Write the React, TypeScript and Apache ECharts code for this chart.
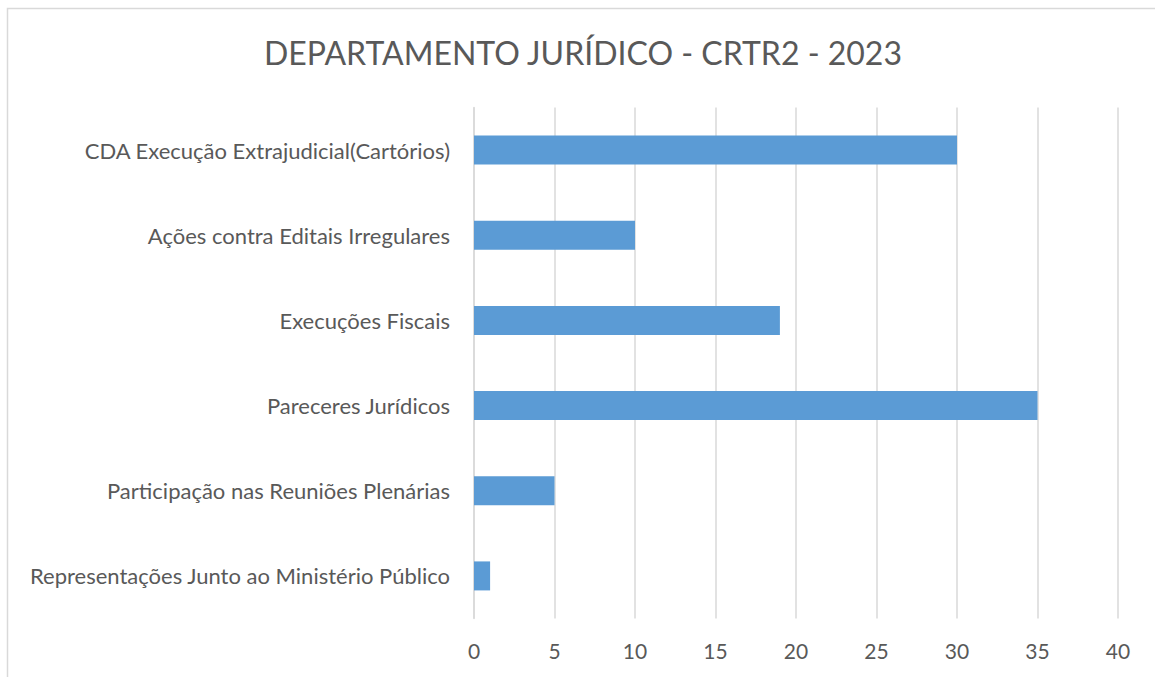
import React, { useEffect, useRef } from "react";
import * as echarts from "echarts";

const categories = [
  "CDA Execução Extrajudicial(Cartórios)",
  "Ações contra Editais Irregulares",
  "Execuções Fiscais",
  "Pareceres Jurídicos",
  "Participação nas Reuniões Plenárias",
  "Representações Junto ao Ministério Público",
];
const values = [30, 10, 19, 35, 5, 1];
const titleText = "DEPARTAMENTO JURÍDICO - CRTR2 - 2023";

export default function App() {
  const ref = useRef<HTMLDivElement>(null);
  useEffect(() => {
    document.body.style.margin = "0";
    const chart = echarts.init(ref.current!, null, { renderer: "svg" });
    chart.setOption({
      animation: false,
      backgroundColor: "#ffffff",
      title: {
        text: titleText,
        left: 578,
        textAlign: "center",
        top: 31,
        textStyle: { fontFamily: "Lato", fontSize: 32, fontWeight: "normal", color: "#595959" },
      },
      graphic: [
        {
          type: "rect",
          shape: { x: 7.5, y: 8.5, width: 1300, height: 800 },
          style: { fill: "none", stroke: "#d9d9d9", lineWidth: 1.5 },
          silent: true,
        },
      ],
      grid: { left: 474, right: 37, top: 107.5, bottom: 58.5, containLabel: false },
      xAxis: {
        type: "value",
        min: 0,
        max: 40,
        interval: 5,
        axisLine: { show: false },
        axisTick: { show: false },
        splitLine: { lineStyle: { color: "#d9d9d9", width: 1.5 } },
        axisLabel: { fontFamily: "Lato", fontSize: 21, color: "#595959", margin: 21 },
      },
      yAxis: {
        type: "category",
        inverse: true,
        data: categories,
        axisLine: { show: true, lineStyle: { color: "#d9d9d9", width: 1.5 } },
        axisTick: { show: false },
        axisLabel: { fontFamily: "Lato", fontSize: 22, color: "#595959", margin: 24 },
      },
      series: [
        {
          type: "bar",
          data: values,
          barWidth: 29,
          itemStyle: { color: "#5b9bd5" },
        },
      ],
    });
    return () => chart.dispose();
  }, []);
  return <div ref={ref} style={{ width: 1155, height: 677 }} />;
}
